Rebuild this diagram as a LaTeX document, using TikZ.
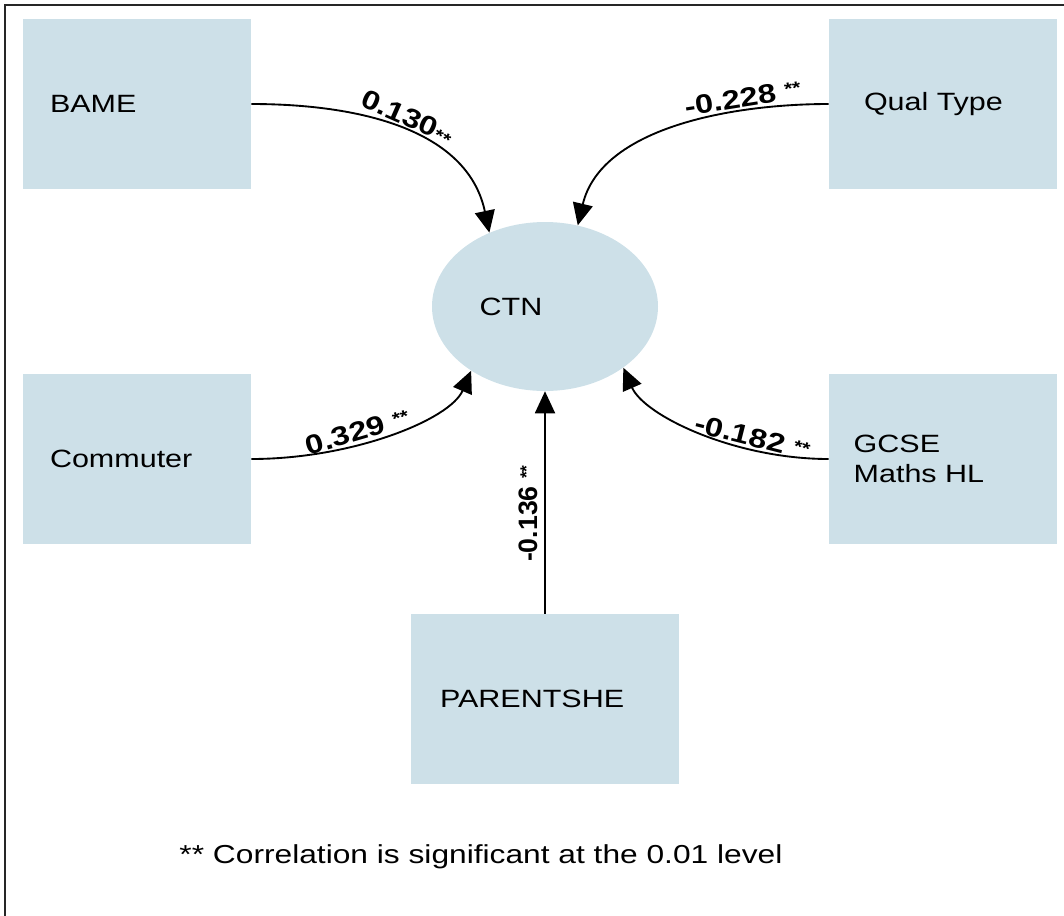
\documentclass[tikz,border=0pt]{standalone}
\usepackage{fontspec}
\setmainfont{Liberation Sans}
\newfontfamily\widefont{Liberation Sans}[FakeStretch=1.22]
\usetikzlibrary{arrows.meta,shapes.geometric}
\definecolor{boxblue}{RGB}{205,224,232}
\newcommand\sigstars{\raisebox{3.5pt}{\fontsize{13}{13}\selectfont **}}

\begin{document}
\begin{tikzpicture}[x=0.75pt,y=-0.75pt,
  varbox/.style={rectangle, fill=boxblue, minimum height=127.5pt,
    inner ysep=0pt, align=left, font=\widefont\fontsize{18.75}{22.5}\selectfont},
  latent/.style={ellipse, fill=boxblue, minimum width=169.5pt,
    minimum height=126.75pt, inner sep=0pt, font=\widefont\fontsize{18.75}{22.5}\selectfont},
  coef/.style={font=\widefont\bfseries\fontsize{20}{22}\selectfont, inner sep=0pt, sloped, above=1.5pt},
  vcoef/.style={font=\bfseries\fontsize{20}{22}\selectfont, inner sep=0pt, sloped, above=5pt},
  link/.style={line width=1.4pt, -{Triangle[length=16.5pt,width=15pt]}}]

\useasboundingbox (0,0) rectangle (1064,915);

% outer frame (only top and left edges are visible)
\draw[line width=1.6pt, black!85] (5,920) -- (5,5) -- (1070,5);

% observed variables
\node[varbox, inner xsep=20.25pt, text width=130.5pt] (bame) at (137,104) {BAME};
\node[varbox, inner xsep=26.25pt, text width=118.5pt] (qual) at (943,104) {Qual Type};
\node[varbox, inner xsep=20.25pt, text width=130.5pt] (comm) at (137,459) {Commuter};
\node[varbox, inner xsep=18.5pt, text width=134pt] (gcse) at (943,459) {GCSE\\Maths HL};
\node[varbox, inner xsep=21.75pt, text width=157.5pt] (parent) at (545,699) {PARENTSHE};

% outcome
\node[latent] (ctn) at (545,306.5) {CTN\hspace*{51pt}};

% paths into the outcome, each with its coefficient
\draw[link] (bame.east) .. controls +(106,0) and +(-22,-104) .. (ctn.127)
  node[coef, pos=0.5] (c130) {0.130\raisebox{-1.5pt}{\fontsize{13}{13}\selectfont **}};
\draw[link] (qual.west) .. controls +(-99,0) and +(23,-97) .. (ctn.68)
  node[coef, pos=0.27] (c228) {-0.228 \sigstars};
\draw[link] (comm.east) .. controls +(101,0) and +(-21,49) .. (ctn.221)
  node[coef, pos=0.38] (c329) {0.329 \sigstars};
\draw[link] (gcse.west) .. controls +(-94,0) and +(21,48) .. (ctn.322.6)
  node[coef, pos=0.29] (c182) {-0.182 \sigstars};
\draw[link] (parent.north) -- (ctn.south)
  node[vcoef, pos=0.45] (c136) {-0.136 \sigstars};

% footnote
\node[font=\widefont\fontsize{19.5}{22.5}\selectfont, inner sep=0pt] (note) at (481,857)
  {** Correlation is significant at the 0.01 level};
\end{tikzpicture}
\end{document}
